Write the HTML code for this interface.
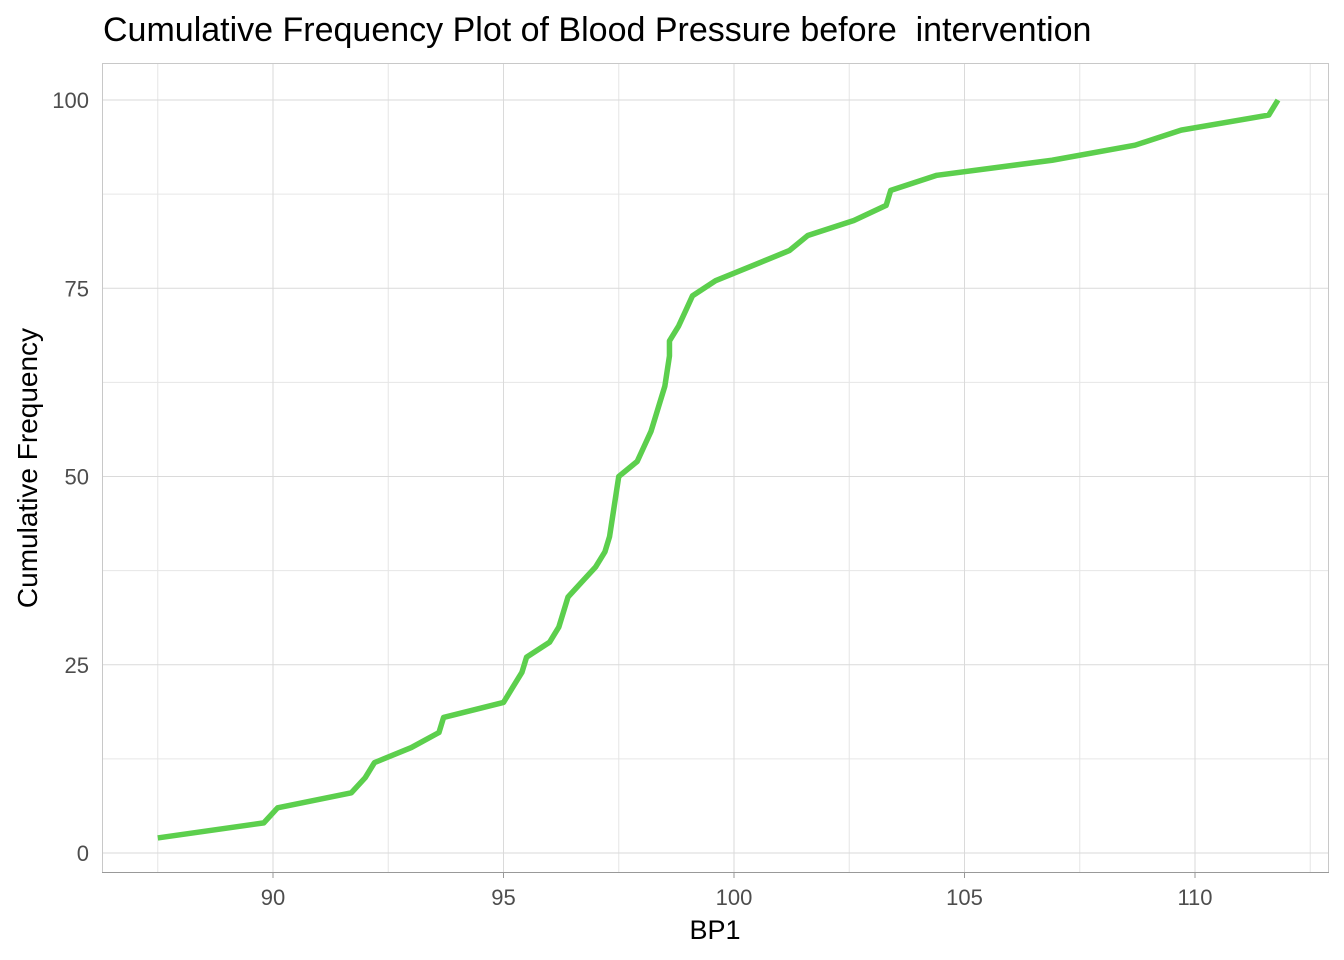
<!DOCTYPE html>
<html><head><meta charset="utf-8">
<style>
body{margin:0;background:#fff;font-family:"Liberation Sans",Arial,sans-serif;}
svg{display:block}
</style></head>
<body>
<svg id="chart" width="1344" height="960">
<text x="103" y="41" font-size="34" fill="#000" style="white-space:pre" xml:space="preserve">Cumulative Frequency Plot of Blood Pressure before  intervention</text>
<g id="grid"></g>
<rect x="102.5" y="63.5" width="1226" height="809" fill="none" stroke="#c8c8c8"/>
<line x1="102" y1="872.5" x2="1329" y2="872.5" stroke="#999"/>
<g id="ticks"></g>
<polyline id="line" fill="none" stroke="#5ccf4d" stroke-width="5.5" stroke-linejoin="round"/>
<text x="715" y="939" font-size="27" text-anchor="middle" fill="#000">BP1</text>
<text transform="translate(37,468) rotate(-90)" font-size="28" text-anchor="middle" fill="#000">Cumulative Frequency</text>
</svg>
<script>
const bpValues=[87.5,89.8,90.1,91.7,92.0,92.2,93.0,93.6,93.7,95.0,95.2,95.4,95.5,96.0,96.2,96.3,96.4,96.7,97.0,97.2,97.3,97.35,97.4,97.45,97.5,97.9,98.05,98.2,98.3,98.4,98.5,98.55,98.6,98.6,98.8,98.95,99.1,99.6,100.4,101.2,101.6,102.6,103.3,103.4,104.4,106.9,108.7,109.7,111.6,111.8];
const cumFreq=[2,4,6,8,10,12,14,16,18,20,22,24,26,28,30,32,34,36,38,40,42,44,46,48,50,52,54,56,58,60,62,64,66,68,70,72,74,76,78,80,82,84,86,88,90,92,94,96,98,100];
const xTicks=[90,95,100,105,110];
const yTicks=[0,25,50,75,100];
const xMinor=[87.5,92.5,97.5,102.5,107.5,112.5];
const yMinor=[12.5,37.5,62.5,87.5];
const sx=v=>273+(v-90)*46.1;
const sy=v=>853-v*7.53;
const ns="http://www.w3.org/2000/svg";
const grid=document.getElementById('grid'),ticks=document.getElementById('ticks');
function ln(x1,y1,x2,y2,c,parent){const l=document.createElementNS(ns,'line');l.setAttribute('x1',x1);l.setAttribute('y1',y1);l.setAttribute('x2',x2);l.setAttribute('y2',y2);l.setAttribute('stroke',c);parent.appendChild(l);return l;}
function tx(x,y,s,a,parent){const t=document.createElementNS(ns,'text');t.setAttribute('x',x);t.setAttribute('y',y);t.setAttribute('font-size','22');t.setAttribute('fill','#4d4d4d');t.setAttribute('text-anchor',a);t.textContent=s;parent.appendChild(t);return t;}
xMinor.forEach(v=>{const p=sx(v);if(p>102&&p<1328){const l=ln(p,63,p,872,'#e6e6e6',grid);

}});
yMinor.forEach(v=>{const l=ln(102,sy(v),1328,sy(v),'#e6e6e6',grid);

});
xTicks.forEach(v=>{const l=ln(sx(v),63,sx(v),872,'#dadada',grid);


const k=ln(sx(v),872,sx(v),878,'#999',ticks);


const t=tx(sx(v),905,String(v),'middle',ticks);

});
yTicks.forEach(v=>{const l=ln(102,sy(v),1328,sy(v),'#dadada',grid);


const t=tx(89,sy(v)+8,String(v),'end',ticks);

});
const line=document.getElementById('line');
line.setAttribute('points',bpValues.map((v,i)=>sx(v)+','+sy(cumFreq[i])).join(' '));


</script>
</body></html>
